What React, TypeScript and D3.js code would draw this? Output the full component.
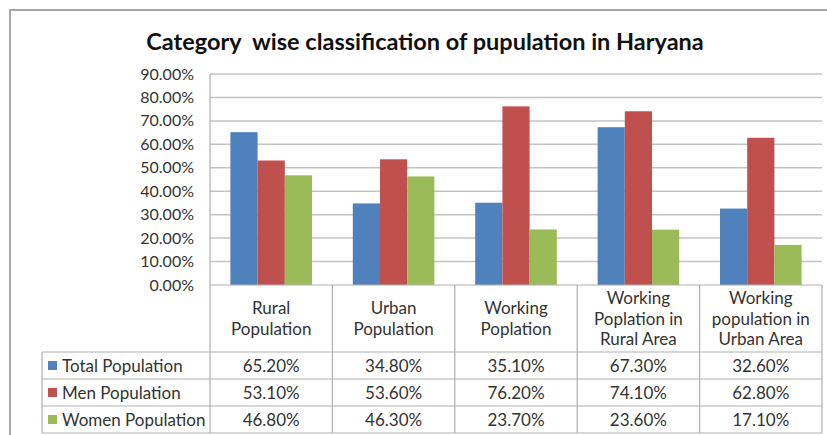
import * as d3 from "d3";

const W = 827;
const H = 435;
const LEFT = 210;
const RIGHT = 822;
const TOP = 74; // 90% gridline
const BASE = 285; // 0% line
const HEADER_BOTTOM = 352;
const ROW_H = 27;
const LEGEND_LEFT = 42;
const FONT = "Lato, 'Open Sans', sans-serif";

const categories = [
  "Rural Population",
  "Urban Population",
  "Working Poplation",
  "Working Poplation in Rural Area",
  "Working population in Urban Area",
];
const categoryLines = [
  ["Rural", "Population"],
  ["Urban", "Population"],
  ["Working", "Poplation"],
  ["Working", "Poplation in", "Rural Area"],
  ["Working", "population in", "Urban Area"],
];
const seriesNames = ["Total Population", "Men Population", "Women Population"];
const totalPop = [0.652, 0.348, 0.351, 0.673, 0.326];
const menPop = [0.531, 0.536, 0.762, 0.741, 0.628];
const womenPop = [0.468, 0.463, 0.237, 0.236, 0.171];
const yTicks = [0, 0.1, 0.2, 0.3, 0.4, 0.5, 0.6, 0.7, 0.8, 0.9];
const colors = ["#4F81BD", "#C0504D", "#9BBB59"];

const seriesValues = [totalPop, menPop, womenPop];
const pct = d3.format(".2%");

export default function App() {
  const x = d3.scaleBand<string>().domain(categories).range([LEFT, RIGHT]).padding(0);
  const bw = x.bandwidth();
  const barW = bw / 4.5;
  const inner = d3
    .scaleBand<string>()
    .domain(seriesNames)
    .range([barW * 0.75, bw - barW * 0.75])
    .padding(0);
  const y = d3.scaleLinear().domain([0, 0.9]).range([BASE, TOP]);

  const grid = "#c3c3c3";
  const tableLine = "#b0b0b0";
  const textColor = "#333";

  return (
    <div style={{ position: "fixed", left: 0, top: 0 }}>
      <svg width={W} height={H} style={{ display: "block", background: "#fff" }}>
        {/* chart frame */}
        <rect x={10} y={10} width={W + 20} height={H + 20} fill="none" stroke="#a6a6a6" strokeWidth={2} />

        <text
          x={425}
          y={50}
          textAnchor="middle"
          fontFamily={FONT}
          fontWeight="bold"
          fontSize={23.5}
          fill="#111"
          style={{ whiteSpace: "pre" }}
        >
          Category  wise classification of pupulation in Haryana
        </text>

        {/* gridlines + y labels */}
        {yTicks.map((t) => (
          <g key={t}>
            {t > 0 && <line x1={LEFT} x2={RIGHT} y1={y(t)} y2={y(t)} stroke={grid} strokeWidth={1.5} />}
            <text
              x={194}
              y={y(t) + 5.5}
              textAnchor="end"
              fontFamily={FONT}
              fontSize={16}
              fill={textColor}
            >
              {pct(t)}
            </text>
          </g>
        ))}

        {/* bars */}
        {categories.map((c, ci) => (
          <g key={c} transform={`translate(${x(c)},0)`}>
            {seriesNames.map((s, si) => {
              const v = seriesValues[si][ci];
              return (
                <rect
                  key={s}
                  x={inner(s)}
                  y={y(v)}
                  width={inner.bandwidth()}
                  height={BASE - y(v)}
                  fill={colors[si]}
                />
              );
            })}
          </g>
        ))}

        {/* axes */}
        <line x1={LEFT} x2={LEFT} y1={TOP} y2={HEADER_BOTTOM + 3 * ROW_H} stroke={tableLine} strokeWidth={1.2} />
        <line x1={LEFT} x2={RIGHT} y1={BASE} y2={BASE} stroke={tableLine} strokeWidth={1.2} />

        {/* data table */}
        {categories.map((c) => (
          <line
            key={c}
            x1={(x(c) ?? 0) + bw}
            x2={(x(c) ?? 0) + bw}
            y1={BASE}
            y2={HEADER_BOTTOM + 3 * ROW_H}
            stroke={tableLine}
            strokeWidth={1.2}
          />
        ))}
        {[0, 1, 2, 3].map((r) => (
          <line
            key={r}
            x1={LEGEND_LEFT}
            x2={RIGHT}
            y1={HEADER_BOTTOM + r * ROW_H}
            y2={HEADER_BOTTOM + r * ROW_H}
            stroke={tableLine}
            strokeWidth={1.2}
          />
        ))}
        <line
          x1={LEGEND_LEFT}
          x2={LEGEND_LEFT}
          y1={HEADER_BOTTOM}
          y2={HEADER_BOTTOM + 3 * ROW_H}
          stroke={tableLine}
          strokeWidth={1.2}
        />

        {categories.map((c, ci) => {
          const lines = categoryLines[ci];
          const cx = (x(c) ?? 0) + bw / 2;
          const mid = (BASE + HEADER_BOTTOM) / 2;
          const step = 20.5;
          const start = mid - ((lines.length - 1) * step) / 2;
          return (
            <text key={c} textAnchor="middle" fontFamily={FONT} fontSize={17} fill={textColor}>
              {lines.map((l, li) => (
                <tspan key={li} x={cx} y={start + li * step + 6}>
                  {l}
                </tspan>
              ))}
            </text>
          );
        })}

        {seriesNames.map((s, si) => {
          const cy = HEADER_BOTTOM + si * ROW_H + ROW_H / 2;
          return (
            <g key={s}>
              <rect x={48} y={cy - 4.5} width={9} height={9} fill={colors[si]} />
              <text x={62} y={cy + 6} fontFamily={FONT} fontSize={17} fill={textColor}>
                {s}
              </text>
              {categories.map((c, ci) => (
                <text
                  key={c}
                  x={(x(c) ?? 0) + bw / 2}
                  y={cy + 6}
                  textAnchor="middle"
                  fontFamily={FONT}
                  fontSize={17}
                  fill={textColor}
                >
                  {pct(seriesValues[si][ci])}
                </text>
              ))}
            </g>
          );
        })}
      </svg>
    </div>
  );
}
